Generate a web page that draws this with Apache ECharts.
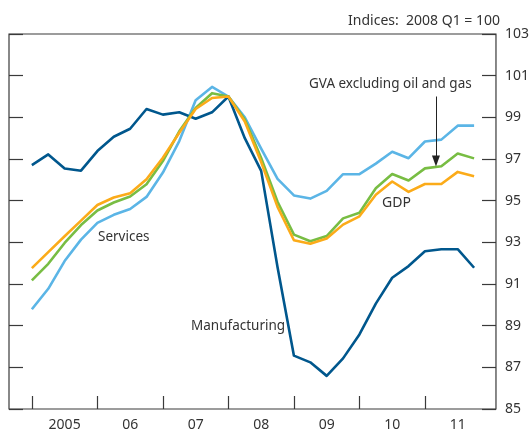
<!DOCTYPE html>
<html>
<head>
<meta charset="utf-8">
<script src="https://cdn.jsdelivr.net/npm/echarts@6/dist/echarts.min.js"></script>
<style>
html, body { margin: 0; padding: 0; background: #fff; }
#chart { width: 532px; height: 432px; }
</style>
</head>
<body>
<div id="chart"></div>
<script>
// quarterly data, 2005 Q1 to 2011 Q4, index 2008 Q1 = 100
var years = [2005, 2006, 2007, 2008, 2009, 2010, 2011];
var quarters = [1, 2, 3, 4];

var manufacturing = [96.71, 97.22, 96.54, 96.44, 97.38, 98.07, 98.45, 99.40,
	99.13, 99.24, 98.93, 99.24, 100.0, 98.0, 96.43, 91.8,
	87.56, 87.24, 86.59, 87.43, 88.58, 90.06, 91.30, 91.86,
	92.57, 92.67, 92.67, 91.78];
var services = [89.79, 90.77, 92.10, 93.13, 93.93, 94.32, 94.60, 95.18,
	96.35, 97.86, 99.82, 100.46, 100.0, 99.0, 97.5, 96.05,
	95.25, 95.1, 95.47, 96.27, 96.27, 96.78, 97.35, 97.04,
	97.84, 97.93, 98.6, 98.6];
var gvaExOil = [91.17, 91.97, 92.97, 93.83, 94.53, 94.91, 95.20, 95.79,
	96.90, 98.33, 99.45, 100.16, 100.0, 98.9, 97.05, 94.95,
	93.37, 93.05, 93.3, 94.15, 94.42, 95.6, 96.28, 95.97,
	96.55, 96.65, 97.26, 97.03];
var gdp = [91.76, 92.53, 93.29, 94.04, 94.79, 95.15, 95.36, 96.03,
	97.06, 98.26, 99.40, 99.93, 100.0, 98.8, 96.85, 94.7,
	93.1, 92.93, 93.18, 93.85, 94.25, 95.28, 95.92, 95.42,
	95.8, 95.8, 96.38, 96.17];

var yTicks = [85, 87, 89, 91, 93, 95, 97, 99, 101, 103];
var yearLabels = ['2005', '06', '07', '08', '09', '10', '11'];

// quarter positions as decimal years (Q1 sits on the year tick)
var xPos = [];
years.forEach(function(y) {
	quarters.forEach(function(q) {
		xPos.push(y + (q - 1) / 4);
	});
});
var labelPos = years.map(function(y) { return y + 0.5; });

function toPairs(vals) {
	return vals.map(function(v, i) { return [xPos[i], v]; });
}

var font = 'Noto Sans';
var textColor = '#333';
var axisColor = '#3a3a3a';
var noteFont = '13.5px "Noto Sans"';

var myChart = echarts.init(document.getElementById('chart'), null, { renderer: 'canvas' });

var lineStyle = function(color) {
	return { color: color, width: 2.6, join: 'round' };
};

var option = {
	animation: false,
	backgroundColor: '#fff',
	grid: {
		left: 9, right: 32, top: 34, bottom: 21,
		show: true,
		borderColor: axisColor,
		borderWidth: 1.2,
		backgroundColor: 'transparent'
	},
	xAxis: {
		type: 'value',
		min: 2004.651,
		max: 2012.084,
		splitLine: { show: false },
		axisLine: { show: false },
		axisTick: {
			show: true,
			inside: true,
			length: 13,
			customValues: years,
			lineStyle: { color: axisColor, width: 1.2 }
		},
		axisLabel: {
			show: true,
			customValues: labelPos,
			margin: 9,
			color: textColor,
			fontFamily: font,
			fontSize: 14,
			formatter: function(v) {
				return yearLabels[years.indexOf(Math.floor(v))];
			}
		}
	},
	yAxis: [
		{
			type: 'value',
			position: 'right',
			min: 85,
			max: 103,
			splitLine: { show: false },
			axisLine: { show: false },
			axisTick: {
				show: true,
				inside: true,
				length: 14,
				customValues: yTicks,
				lineStyle: { color: axisColor, width: 1.2 }
			},
			axisLabel: {
				show: true,
				customValues: yTicks,
				margin: 9,
				color: textColor,
				fontFamily: font,
				fontSize: 14
			}
		},
		{
			type: 'value',
			position: 'left',
			min: 85,
			max: 103,
			splitLine: { show: false },
			axisLine: { show: false },
			axisTick: {
				show: true,
				inside: true,
				length: 14,
				customValues: yTicks,
				lineStyle: { color: axisColor, width: 1.2 }
			},
			axisLabel: { show: false }
		}
	],
	series: [
		{
			name: 'Services',
			type: 'line',
			data: toPairs(services),
			symbol: 'none',
			lineStyle: lineStyle('#5bb5e6'),
			z: 2
		},
		{
			name: 'Manufacturing',
			type: 'line',
			data: toPairs(manufacturing),
			symbol: 'none',
			lineStyle: lineStyle('#00578d'),
			z: 3
		},
		{
			name: 'GVA excluding oil and gas',
			type: 'line',
			data: toPairs(gvaExOil),
			symbol: 'none',
			lineStyle: lineStyle('#78bd43'),
			z: 4,
			markLine: {
				silent: true,
				symbol: ['none', 'triangle'],
				symbolSize: [8, 11],
				symbolRotate: 180,
				label: { show: false },
				lineStyle: { color: '#222', width: 1, type: 'solid' },
				data: [[
					{ coord: [2011.168, 100.0] },
					{ coord: [2011.168, 96.9] }
				]]
			}
		},
		{
			name: 'GDP',
			type: 'line',
			data: toPairs(gdp),
			symbol: 'none',
			lineStyle: lineStyle('#fbab19'),
			z: 5
		}
	],
	graphic: [
		{ type: 'text', right: 32, top: 14, style: { text: 'Indices:  2008 Q1 = 100', fill: textColor, font: '14px "Noto Sans"' } },
		{ type: 'text', left: 309, top: 77, style: { text: 'GVA excluding oil and gas', fill: textColor, font: noteFont } },
		{ type: 'text', left: 382, top: 196, style: { text: 'GDP', fill: textColor, font: '14px "Noto Sans"' } },
		{ type: 'text', left: 98, top: 230, style: { text: 'Services', fill: textColor, font: noteFont } },
		{ type: 'text', left: 191, top: 319, style: { text: 'Manufacturing', fill: textColor, font: noteFont } }
	]
};

myChart.setOption(option);
</script>
</body>
</html>
